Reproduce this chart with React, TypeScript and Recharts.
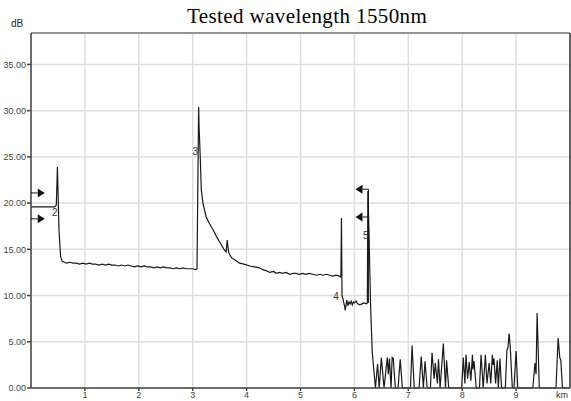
import React from 'react';
import { LineChart, Line, XAxis, YAxis, CartesianGrid, ReferenceLine, ReferenceDot } from 'recharts';

// OTDR trace, split by fibre section: [km, dB]
const launchTrace: [number, number][] = [
  [0, 19.6], [0.44, 19.6], [0.47, 19.8], [0.49, 23.9], [0.52, 17.0], [0.55, 14.2], [0.58, 13.7], [0.62, 13.6],
];

const firstSpan: [number, number][] = [
  [0.66, 13.5], [0.72, 13.6], [0.78, 13.5], [0.84, 13.5], [0.9, 13.4], [0.96, 13.5], [1.02, 13.4], [1.08, 13.5],
  [1.14, 13.4], [1.2, 13.4], [1.26, 13.3], [1.32, 13.4], [1.38, 13.3], [1.44, 13.4], [1.5, 13.3], [1.56, 13.3],
  [1.62, 13.2], [1.68, 13.3], [1.74, 13.2], [1.8, 13.3], [1.86, 13.2], [1.92, 13.1], [1.98, 13.2], [2.04, 13.1],
  [2.1, 13.2], [2.16, 13.1], [2.22, 13.1], [2.28, 13.0], [2.34, 13.1], [2.4, 13.0], [2.46, 13.1], [2.52, 13.0],
  [2.58, 13.0], [2.64, 12.9], [2.7, 13.0], [2.76, 12.9], [2.82, 13.0], [2.88, 12.9], [2.94, 12.9], [3.0, 12.9],
  [3.06, 12.8], [3.08, 12.9],
];

const secondSpan: [number, number][] = [
  [3.11, 30.4], [3.12, 28.0], [3.14, 25.0], [3.16, 21.4], [3.19, 20.0], [3.25, 18.5], [3.31, 17.8], [3.38, 17.1],
  [3.44, 16.4], [3.5, 15.8], [3.55, 15.3], [3.59, 14.9], [3.62, 14.7], [3.64, 16.0], [3.66, 15.0], [3.67, 14.6],
  [3.72, 14.1], [3.8, 13.8], [3.87, 13.5], [3.95, 13.4], [4.06, 13.2], [4.15, 13.1], [4.24, 13.0], [4.3, 12.8],
  [4.36, 12.7], [4.43, 12.5], [4.5, 12.6], [4.55, 12.4], [4.61, 12.5], [4.67, 12.4], [4.73, 12.5], [4.8, 12.3],
  [4.86, 12.4], [4.92, 12.4], [4.98, 12.3], [5.04, 12.4], [5.1, 12.3], [5.16, 12.4], [5.23, 12.3], [5.3, 12.2],
  [5.36, 12.3], [5.42, 12.2], [5.48, 12.3], [5.54, 12.2], [5.6, 12.1], [5.66, 12.2], [5.72, 12.1], [5.74, 12.0],
];

const thirdSpan: [number, number][] = [
  [5.75, 12.2], [5.76, 18.4], [5.77, 10.0], [5.79, 9.6], [5.8, 9.3], [5.82, 8.8], [5.83, 8.4], [5.85, 9.2],
  [5.86, 9.5], [5.88, 8.9], [5.9, 9.3], [5.92, 9.1], [5.94, 9.4], [5.96, 9.0], [5.98, 9.3], [6.0, 9.2],
  [6.03, 9.4], [6.06, 9.1], [6.1, 9.0], [6.14, 9.1], [6.18, 9.2], [6.22, 9.1], [6.24, 9.2],
  [6.25, 21.3], [6.27, 17.0], [6.3, 9.0], [6.33, 4.0], [6.34, 3.3],
];

const noiseFloor: [number, number][] = [
  [6.36, 2.0], [6.39, 0], [6.43, 2.6], [6.46, 0], [6.5, 3.3], [6.55, 0], [6.61, 3.3], [6.63, 1.5], [6.65, 3.2],
  [6.68, 0], [6.7, 3.3], [6.72, 3.2], [6.76, 0], [6.81, 0], [6.85, 3.1], [6.89, 0], [7.04, 0], [7.07, 4.6],
  [7.11, 0], [7.2, 0], [7.24, 3.4], [7.28, 0], [7.31, 2.9], [7.35, 0], [7.41, 0], [7.44, 3.8], [7.48, 1.0],
  [7.5, 2.7], [7.54, 0.5], [7.56, 3.1], [7.59, 0], [7.65, 4.8], [7.69, 0], [7.71, 3.0], [7.75, 0], [7.99, 0],
  [8.02, 3.3], [8.05, 0.5], [8.07, 3.6], [8.1, 1.0], [8.13, 2.8], [8.16, 0.8], [8.19, 3.6], [8.2, 2.0],
  [8.22, 2.9], [8.26, 0], [8.32, 0], [8.35, 3.6], [8.39, 0], [8.43, 3.6], [8.46, 0.5], [8.5, 2.7], [8.53, 0.5],
  [8.56, 3.6], [8.57, 2.5], [8.59, 3.2], [8.62, 0.5], [8.65, 3.0], [8.67, 0], [8.7, 3.2], [8.73, 0], [8.8, 0],
  [8.83, 4.1], [8.85, 4.4], [8.87, 5.9], [8.89, 4.6], [8.93, 0], [8.96, 0], [9.0, 4.0], [9.03, 0], [9.31, 0],
  [9.35, 2.7], [9.37, 1.5], [9.39, 8.1], [9.43, 0], [9.74, 0], [9.78, 5.4], [9.81, 3.3], [9.83, 3.0], [9.86, 0],
  [10, 0],
];

const kmTicks = [1, 2, 3, 4, 5, 6, 7, 8, 9];
const dbTicks = [0, 5, 10, 15, 20, 25, 30, 35];
const dbTop = 38.4;
const kmEnd = 10;

// event markers
const launchArrowKm = 0.255;
const launchArrowsDb = [21.1, 18.3];
const endArrowKm = 6.02;
const endMarkerKm = 6.26;
const endArrowsDb = [21.5, 18.5];
const eventLabels = [
  { id: '2', km: 0.44, db: 19.0 },
  { id: '3', km: 3.05, db: 25.6 },
  { id: '4', km: 5.66, db: 9.9 },
  { id: '5', km: 6.21, db: 16.5 },
];

const trace = [...launchTrace, ...firstSpan, ...secondSpan, ...thirdSpan, ...noiseFloor].map(([km, db]) => ({ km, db }));

const RightArrow = (props: any) => {
  const { cx, cy } = props;
  return (
    <g>
      <line x1={cx - 14} y1={cy} x2={cx - 7} y2={cy} stroke="#111" strokeWidth={1} />
      <polygon points={`${cx - 7},${cy - 4.5} ${cx},${cy} ${cx - 7},${cy + 4.5}`} fill="#111" />
    </g>
  );
};

const LeftArrow = (props: any) => {
  const { cx, cy } = props;
  return (
    <g>
      <line x1={cx + 7} y1={cy} x2={cx + 13} y2={cy} stroke="#111" strokeWidth={1} />
      <polygon points={`${cx + 7},${cy - 4.5} ${cx},${cy} ${cx + 7},${cy + 4.5}`} fill="#111" />
    </g>
  );
};

const EventText = (id: string) => (props: any) => (
  <text x={props.cx} y={props.cy} textAnchor="middle" dominantBaseline="central" fontSize={10} fill="#333" fontFamily="Arial, 'Liberation Sans', sans-serif">
    {id}
  </text>
);

const App: React.FC = () => {
  return (
    <div style={{ position: 'absolute', left: 0, top: 0, width: 571, height: 401, background: '#fff', fontFamily: "Arial, 'Liberation Sans', sans-serif" }}>
      <div style={{ position: 'absolute', left: 187, top: 4, fontFamily: "'Liberation Serif', 'Times New Roman', serif", fontSize: 21, letterSpacing: 0.4, color: '#000', whiteSpace: 'nowrap' }}>
        Tested wavelength 1550nm
      </div>
      <div style={{ position: 'absolute', left: 11, top: 18, fontSize: 10, color: '#222' }}>dB</div>
      <div style={{ position: 'absolute', left: 556, top: 390, fontSize: 9, color: '#333' }}>km</div>
      <LineChart width={571} height={401} data={trace} margin={{ top: 33, right: 1, bottom: 0, left: 0 }}>
        <CartesianGrid stroke="#dedede" strokeWidth={1.5} />
        <XAxis
          dataKey="km"
          type="number"
          domain={[0, kmEnd]}
          ticks={kmTicks}
          height={13}
          tickSize={3}
          tickMargin={1}
          stroke="#444"
          strokeWidth={1.5}
          tick={{ fontSize: 9, fill: '#444' }}
        />
        <YAxis
          type="number"
          domain={[0, dbTop]}
          ticks={dbTicks}
          width={31}
          tickSize={4}
          tickMargin={1}
          stroke="#444"
          strokeWidth={1.5}
          tick={{ fontSize: 9, fill: '#444' }}
          tickFormatter={(v: number) => v.toFixed(2)}
        />
        <ReferenceLine y={dbTop} stroke="#777" strokeWidth={1.5} ifOverflow="visible" />
        <ReferenceLine x={kmEnd} stroke="#333" strokeWidth={1.5} ifOverflow="visible" />
        <Line type="linear" dataKey="db" stroke="#1a1a1a" strokeWidth={1.2} dot={false} isAnimationActive={false} />
        <ReferenceLine
          segment={[{ x: endMarkerKm, y: endArrowsDb[0] }, { x: endMarkerKm, y: 9.2 }]}
          stroke="#111"
          strokeWidth={1}
        />
        {launchArrowsDb.map((db) => (
          <ReferenceDot key={`l${db}`} x={launchArrowKm} y={db} r={0} shape={RightArrow} />
        ))}
        {endArrowsDb.map((db) => (
          <ReferenceDot key={`e${db}`} x={endArrowKm} y={db} r={0} shape={LeftArrow} />
        ))}
        {eventLabels.map((e) => (
          <ReferenceDot key={e.id} x={e.km} y={e.db} r={0} shape={EventText(e.id)} />
        ))}
      </LineChart>
    </div>
  );
};

export default App;
